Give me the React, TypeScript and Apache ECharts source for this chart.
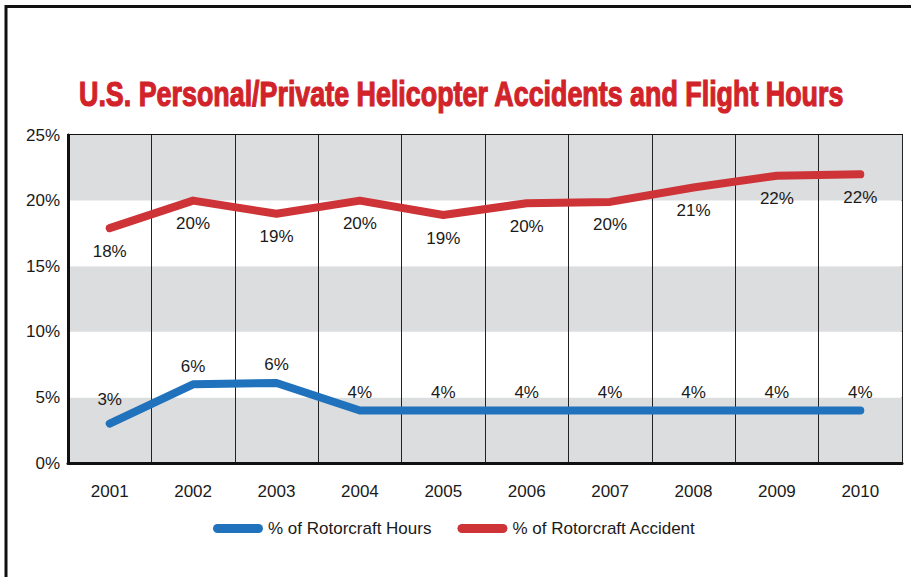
import React, { useEffect, useRef } from "react";
import * as echarts from "echarts";

const years = ["2001", "2002", "2003", "2004", "2005", "2006", "2007", "2008", "2009", "2010"];
const hoursPct = [3, 6, 6.1, 4, 4, 4, 4, 4, 4, 4];
const hoursLabels = ["3%", "6%", "6%", "4%", "4%", "4%", "4%", "4%", "4%", "4%"];
const accidentPct = [17.9, 20, 19, 20, 18.9, 19.8, 19.9, 21, 21.9, 22];
const accidentLabels = ["18%", "20%", "19%", "20%", "19%", "20%", "20%", "21%", "22%", "22%"];
const yTicks = [0, 5, 10, 15, 20, 25];

const TITLE = "U.S. Personal/Private Helicopter Accidents and Flight Hours";
const FONT = '"Liberation Sans", Arial, sans-serif';
const BLUE = "#1f72bb";
const RED = "#cd3337";

export default function App() {
  const ref = useRef<HTMLDivElement>(null);
  useEffect(() => {
    document.body.style.margin = "0";
    const chart = echarts.init(ref.current!, null, { renderer: "svg" });
    const titleFont = `bold 36px ${FONT}`;
    let scaleX = 1;
    try {
      const ctx = document.createElement("canvas").getContext("2d")!;
      ctx.font = titleFont;
      const w = ctx.measureText(TITLE).width;
      if (w > 0) scaleX = 766 / w;
    } catch (e) {}
    const labelFont = { fontFamily: FONT, fontSize: 17, color: "#1a1a1a" };
    const pill = "path://M4.5,0 H45.5 A4.5,4.5 0 0 1 45.5,9 H4.5 A4.5,4.5 0 0 1 4.5,0 Z";
    chart.setOption({
      animation: false,
      backgroundColor: "#fff",
      graphic: [
        { type: "line", shape: { x1: 6, y1: 5, x2: 6, y2: 577 }, style: { stroke: "#111", lineWidth: 3 } },
        { type: "line", shape: { x1: 5, y1: 6.5, x2: 911, y2: 6.5 }, style: { stroke: "#111", lineWidth: 3 } },
        {
          type: "text",
          x: 79,
          y: 94,
          scaleX,
          style: {
            text: TITLE,
            font: titleFont,
            fill: "#d2232a",
            stroke: "#d2232a",
            lineWidth: 1.2,
            align: "left",
            verticalAlign: "middle",
          },
        },
      ],
      grid: { left: 68, right: 9, top: 135, bottom: 114, show: true, borderColor: "#111", borderWidth: 2, backgroundColor: "transparent" },
      legend: {
        left: 213,
        top: 520,
        padding: 0,
        itemWidth: 50,
        itemHeight: 9,
        itemGap: 26,
        textStyle: { ...labelFont },
        data: [
          { name: "% of Rotorcraft Hours", icon: pill },
          { name: "% of Rotorcraft Accident", icon: pill },
        ],
      },
      xAxis: {
        type: "category",
        data: years,
        boundaryGap: true,
        axisLine: { lineStyle: { color: "#111", width: 3 } },
        axisTick: { show: false },
        axisLabel: { ...labelFont, margin: 20 },
        splitLine: { show: true, interval: 0, lineStyle: { color: "#222", width: 1 } },
      },
      yAxis: {
        type: "value",
        min: yTicks[0],
        max: yTicks[yTicks.length - 1],
        interval: 5,
        axisLine: { show: true, lineStyle: { color: "#111", width: 3 } },
        axisTick: { show: false },
        axisLabel: { ...labelFont, margin: 8, formatter: (v: number) => `${v}%` },
        splitLine: { show: false },
        splitArea: { show: true, areaStyle: { color: ["#dcdddf", "#ffffff"] } },
      },
      series: [
        {
          name: "% of Rotorcraft Hours",
          type: "line",
          data: hoursPct.map((v, i) => ({
            value: v,
            label: i === 0 ? { distance: 15 } : undefined,
          })),
          color: BLUE,
          lineStyle: { width: 8, cap: "round", join: "round", color: BLUE },
          showSymbol: true,
          symbol: "circle",
          symbolSize: 1,
          itemStyle: { color: BLUE },
          z: 3,
          label: {
            show: true,
            position: "top",
            distance: 9,
            ...labelFont,
            formatter: (p: any) => hoursLabels[p.dataIndex],
          },
        },
        {
          name: "% of Rotorcraft Accident",
          type: "line",
          data: accidentPct,
          color: RED,
          lineStyle: { width: 8, cap: "round", join: "round", color: RED },
          showSymbol: true,
          symbol: "circle",
          symbolSize: 1,
          itemStyle: { color: RED },
          z: 3,
          label: {
            show: true,
            position: "bottom",
            distance: 14,
            ...labelFont,
            formatter: (p: any) => accidentLabels[p.dataIndex],
          },
        },
      ],
    });
    return () => chart.dispose();
  }, []);
  return <div ref={ref} style={{ width: 911, height: 577 }} />;
}
